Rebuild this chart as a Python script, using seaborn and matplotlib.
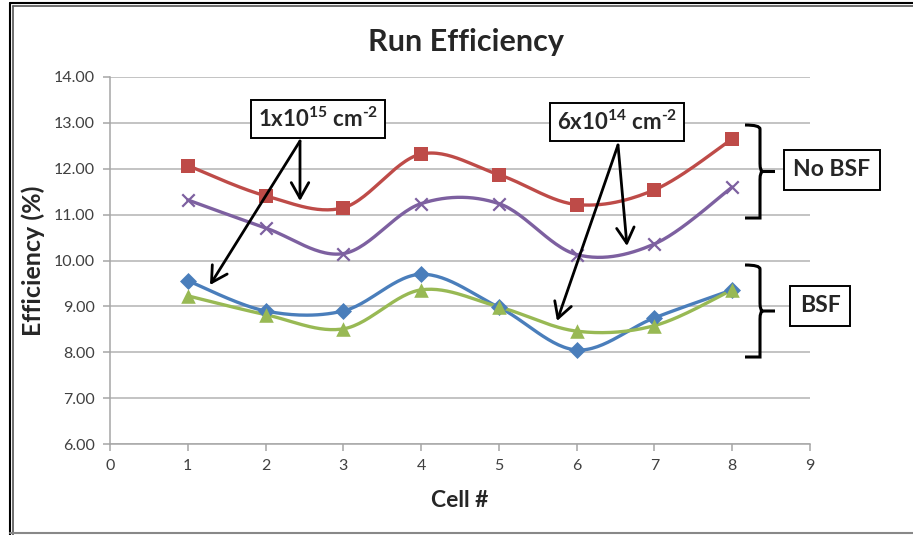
import numpy as np
import pandas as pd
import matplotlib
matplotlib.use("Agg")
import matplotlib.pyplot as plt
import seaborn as sns
from matplotlib.path import Path
from matplotlib.patches import PathPatch, FancyArrowPatch
from matplotlib.lines import Line2D

# ---- data ----
cells = [1, 2, 3, 4, 5, 6, 7, 8]
blue_bsf_1e15 = [9.56, 8.90, 8.90, 9.70, 8.98, 8.05, 8.75, 9.36]
red_nobsf_1e15 = [12.07, 11.41, 11.15, 12.32, 11.87, 11.22, 11.54, 12.65]
green_bsf_6e14 = [9.23, 8.82, 8.51, 9.36, 8.99, 8.46, 8.58, 9.36]
purple_nobsf_6e14 = [11.32, 10.71, 10.15, 11.24, 11.24, 10.13, 10.36, 11.60]
y_ticks = [6, 7, 8, 9, 10, 11, 12, 13, 14]
x_ticks = [0, 1, 2, 3, 4, 5, 6, 7, 8, 9]

sns.set_theme(style="white")
plt.rcParams['font.family'] = ['Lato', 'DejaVu Sans']
plt.rcParams['mathtext.fontset'] = 'custom'
plt.rcParams['mathtext.rm'] = 'Lato:bold'
plt.rcParams['mathtext.it'] = 'Lato:bold'
plt.rcParams['mathtext.bf'] = 'Lato:bold'

W, H = 913, 535
fig = plt.figure(figsize=(W / 100, H / 100), dpi=100)
L, R, T, B = 110, 810, 77, 444
ax = fig.add_axes([L / W, 1 - B / H, (R - L) / W, (B - T) / H])


def smooth(xs, ys, n=30):
    x = np.asarray(xs, float); y = np.asarray(ys, float)
    px = np.concatenate([[x[0]], x, [x[-1]]]); py = np.concatenate([[y[0]], y, [y[-1]]])
    ox, oy = [], []
    for i in range(1, len(px) - 2):
        p0, p1, p2, p3 = (px[i-1], py[i-1]), (px[i], py[i]), (px[i+1], py[i+1]), (px[i+2], py[i+2])
        c1 = (p1[0] + (p2[0] - p0[0]) / 6, p1[1] + (p2[1] - p0[1]) / 6)
        c2 = (p2[0] - (p3[0] - p1[0]) / 6, p2[1] - (p3[1] - p1[1]) / 6)
        t = np.linspace(0, 1, n, endpoint=(i == len(px) - 3))
        bx = (1-t)**3*p1[0] + 3*(1-t)**2*t*c1[0] + 3*(1-t)*t**2*c2[0] + t**3*p2[0]
        by = (1-t)**3*p1[1] + 3*(1-t)**2*t*c1[1] + 3*(1-t)*t**2*c2[1] + t**3*p2[1]
        ox.extend(bx); oy.extend(by)
    return np.array(ox), np.array(oy)


series = [
    (blue_bsf_1e15, '#4A7EBB', 'D', 75, None),
    (red_nobsf_1e15, '#BE4B48', 's', 110, None),
    (green_bsf_6e14, '#98B954', '^', 110, None),
    (purple_nobsf_6e14, '#7D60A0', 'x', 80, 1.6),
]
for i, (vals, col, mk, s, lw) in enumerate(series):
    sx, sy = smooth(cells, vals)
    sns.lineplot(x=sx, y=sy, ax=ax, color=col, linewidth=2.4, sort=False,
                 estimator=None, zorder=2 + i)
    kw = dict(linewidth=lw) if lw else dict(linewidth=0)
    sns.scatterplot(x=cells, y=vals, ax=ax, color=col, marker=mk, s=s,
                    zorder=10 + i, **kw)

ax.set_xlim(0, 9)
ax.set_ylim(6, 14)
ax.set_xticks(x_ticks)
ax.set_yticks(y_ticks)
ax.set_yticklabels([f"{v:.2f}" for v in y_ticks])
ax.yaxis.grid(True, color='#B3B3B3', linewidth=1.1)
ax.xaxis.grid(False)
for sp in ['top', 'right']:
    ax.spines[sp].set_visible(False)
for sp in ['left', 'bottom']:
    ax.spines[sp].set_color('#A6A6A6')
    ax.spines[sp].set_linewidth(1.1)
ax.tick_params(axis='both', which='major', length=5, width=1.1, color='#A6A6A6',
               labelsize=11.5, labelcolor='#404040', pad=6)
ax.tick_params(axis='y', direction='out', left=True)
ax.tick_params(axis='x', direction='out', bottom=True)
ax.set_xlabel('Cell #', fontsize=16.5, fontweight='bold', labelpad=12)
ax.set_ylabel('Efficiency (%)', fontsize=18, fontweight='bold', labelpad=6)
fig.text(466 / W, 1 - 42 / H, 'Run Efficiency', fontsize=22, fontweight='bold',
         ha='center', va='center')


def fp(px, py):
    return (px / W, 1 - py / H)


# annotation boxes
boxkw = dict(boxstyle='square,pad=0.3', fc='white', ec='black', lw=1.4)
fig.text(*fp(318, 119), r'1x10$^{15}$ cm$^{\text{-2}}$', fontsize=16,
         fontweight='bold', ha='center', va='center', bbox=boxkw, zorder=20)
fig.text(*fp(617, 122), r'6x10$^{14}$ cm$^{\text{-2}}$', fontsize=16,
         fontweight='bold', ha='center', va='center', bbox=boxkw, zorder=20)
fig.text(*fp(832, 170), 'No BSF', fontsize=16.5, fontweight='bold', ha='center',
         va='center', bbox=dict(boxstyle='square,pad=0.4', fc='white', ec='black', lw=1.4))
fig.text(*fp(820, 306), 'BSF', fontsize=16.5, fontweight='bold', ha='center',
         va='center', bbox=dict(boxstyle='square,pad=0.4', fc='white', ec='black', lw=1.4))

# arrows
for (x0, y0), (x1, y1) in [((300, 141), (210, 285)), ((300, 141), (300, 201)),
                           ((618, 145), (557, 321)), ((618, 145), (627, 246))]:
    fig.add_artist(FancyArrowPatch(fp(x0, y0), fp(x1, y1), transform=fig.transFigure,
                                   arrowstyle='->,head_length=0.8,head_width=0.45',
                                   mutation_scale=14, color='black', lw=2,
                                   shrinkA=0, shrinkB=0, zorder=15))


# curly braces
def brace(top, bot, xl=745, xm=760, xt=775):
    mid = (top + bot) / 2
    verts = [fp(xl, top), fp(xm, top), fp(xm, top + 4), fp(xm, top + 10),
             fp(xm, mid - 8), fp(xm, mid), fp(xm + 3, mid), fp(xt, mid),
             fp(xm + 3, mid), fp(xm, mid), fp(xm, mid + 8),
             fp(xm, bot - 10), fp(xm, bot - 4), fp(xm, bot), fp(xl, bot)]
    codes = [Path.MOVETO, Path.CURVE3, Path.CURVE3, Path.LINETO,
             Path.LINETO, Path.CURVE3, Path.CURVE3, Path.LINETO,
             Path.MOVETO, Path.CURVE3, Path.CURVE3,
             Path.LINETO, Path.CURVE3, Path.CURVE3, Path.LINETO]
    fig.add_artist(PathPatch(Path(verts, codes), transform=fig.transFigure,
                             fc='none', ec='black', lw=2.2))


brace(125, 218)
brace(265, 357)

# chart area border
fig.add_artist(Line2D([10 / W, 1], [1 - 3 / H, 1 - 3 / H], transform=fig.transFigure, color='black', lw=1.5))
fig.add_artist(Line2D([13 / W, 1], [1 - 6 / H, 1 - 6 / H], transform=fig.transFigure, color='#555555', lw=1.2))
fig.add_artist(Line2D([10 / W, 10 / W], [0, 1 - 3 / H], transform=fig.transFigure, color='black', lw=1.5))
fig.add_artist(Line2D([13 / W, 13 / W], [0, 1 - 6 / H], transform=fig.transFigure, color='#555555', lw=1.2))
fig.add_artist(Line2D([10 / W, 1], [2 / H, 2 / H], transform=fig.transFigure, color='#888888', lw=1.5))

fig.savefig('out.png', dpi=100)
